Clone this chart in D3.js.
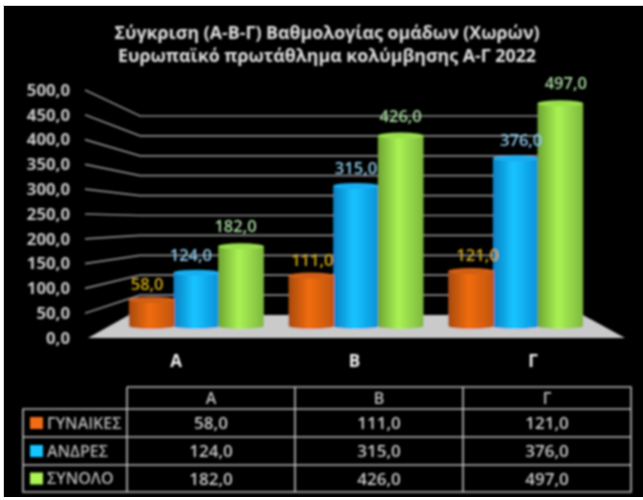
<!DOCTYPE html>
<html>
<head>
<meta charset="utf-8">
<script src="https://cdn.jsdelivr.net/npm/d3@7"></script>
<style>
  html, body { margin: 0; padding: 0; background: #fff; }
  svg { display: block; }
  text { font-family: "Open Sans", "Noto Sans", sans-serif; }
</style>
</head>
<body>
<div id="chart"></div>
<script>
// data
var categories = ["Α", "Β", "Γ"];
var seriesNames = ["ΓΥΝΑΙΚΕΣ", "ΑΝΔΡΕΣ", "ΣΥΝΟΛΟ"];
var women = [58, 111, 121];
var men = [124, 315, 376];
var total = [182, 426, 497];
var yTicks = [0, 50, 100, 150, 200, 250, 300, 350, 400, 450, 500];
var titleLines = ["Σύγκριση (Α-Β-Γ)  Βαθμολογίας ομάδων (Χωρών)", "Ευρωπαϊκό πρωτάθλημα κολύμβησης Α-Γ 2022"];

var seriesValues = [women, men, total];
var sideColors = [["#a84a08", "#f06c12", "#c05408"], ["#0c80c4", "#14c4ff", "#0e90d8"], ["#6ea432", "#aaf254", "#7eb83e"]];
var topColors = ["#d05e12", "#18aef0", "#98e04c"];
var labelColors = ["#d0a818", "#8cc8e8", "#a8dca0"];
var labelNudge = [1, 0, 0];
var labelRise = [16, 18, 20];
var seriesLift = [3, 0, 0];

var width = 643, height = 500;
var svg = d3.select("#chart").append("svg").attr("width", width).attr("height", height);
var defs = svg.append("defs");

defs.append("filter").attr("id", "soft")
	.attr("filterUnits", "userSpaceOnUse")
	.attr("x", 0).attr("y", 0)
	.attr("width", width).attr("height", height)
	.append("feGaussianBlur").attr("stdDeviation", 0.8);

sideColors.forEach(function(c, i) {
	var g = defs.append("linearGradient").attr("id", "side" + i);
	g.append("stop").attr("offset", "0%").attr("stop-color", c[0]);
	g.append("stop").attr("offset", "45%").attr("stop-color", c[1]);
	g.append("stop").attr("offset", "100%").attr("stop-color", c[2]);
});

svg.append("rect").attr("x", 3).attr("y", 5).attr("width", width).attr("height", 492).attr("fill", "#d0d0d0");
svg.append("rect").attr("x", 4).attr("y", 6).attr("width", width).attr("height", 491).attr("fill", "#000");
var root = svg.append("g").attr("filter", "url(#soft)");

// title
root.selectAll(".title").data(titleLines).enter().append("text")
	.attr("class", "title")
	.attr("x", 327)
	.attr("y", function(d, i) { return 39 + i * 23; })
	.attr("text-anchor", "middle")
	.attr("font-size", 17.8)
	.attr("font-weight", 700)
	.attr("fill", "#e0e0e0")
	.text(function(d) { return d; });

// scales
var frontY = d3.scaleLinear().domain([0, 500]).range([338, 90]);
var backY = d3.scaleLinear().domain([0, 500]).range([315, 116]);
var barY = d3.scaleLinear().domain([0, 500]).range([329, 102]);
var groupX = d3.scaleBand().domain(categories).range([116, 595]).paddingInner(0).paddingOuter(0);
var barX = d3.scaleBand().domain(d3.range(seriesNames.length)).range([0, 134]);
var groupLabelX = d3.scalePoint().domain(categories).range([176, 533]);
var fmt = function(v) { return d3.format(".1f")(v).replace(".", ","); };

// floor
root.append("path")
	.attr("d", d3.line()([[88, 338], [129, 315], [583, 315], [625, 338]]) + "Z")
	.attr("fill", "#cacaca");

// wall lines
var gridline = d3.line().x(function(d) { return d[0]; }).y(function(d) { return d[1]; });
root.selectAll(".grid").data(yTicks.slice(1)).enter().append("path")
	.attr("class", "grid")
	.attr("fill", "none")
	.attr("stroke", "#8a8a8a")
	.attr("stroke-width", 1.7)
	.attr("d", function(v) {
		return gridline([[85, frontY(v)], [140, backY(v)], [582, backY(v)]]);
	});

// y axis
var axis = root.append("g").attr("transform", "translate(70,0)")
	.call(d3.axisLeft(frontY).tickValues(yTicks).tickSize(0).tickPadding(0).tickFormat(fmt));
axis.select(".domain").remove();
axis.selectAll("text")
	.attr("fill", "#c8c8c8")
	.attr("font-size", 16.8)
	.attr("font-weight", 700)
	.attr("font-family", "\"Open Sans\", sans-serif");

// cylinders (blue and green first, orange sits in front of them)
var baseY = 326, ry = 3;
[1, 2, 0].forEach(function(s) {
	categories.forEach(function(cat, c) {
		var v = seriesValues[s][c];
		var w = barX.bandwidth() + 1;
		var x0 = groupX(cat) + (groupX.bandwidth() - 134) / 2 + barX(s);
		var x1 = x0 + w;
		var top = barY(v) - seriesLift[s];
		var g = root.append("g");
		g.append("path")
			.attr("d", "M" + x0 + "," + top + "L" + x0 + "," + baseY +
				"A" + (w / 2) + "," + ry + " 0 0 0 " + x1 + "," + baseY +
				"L" + x1 + "," + top + "Z")
			.attr("fill", "url(#side" + s + ")");
		g.append("ellipse")
			.attr("cx", (x0 + x1) / 2).attr("cy", top)
			.attr("rx", w / 2).attr("ry", ry)
			.attr("fill", topColors[s]);
	});
});

// value labels, they lean outwards from the chart middle like the 3d original
var lean = d3.scaleLinear().domain([196, 516]).range([-5, 6]);
seriesNames.forEach(function(name, s) {
	categories.forEach(function(cat, c) {
		var cx = groupX(cat) + (groupX.bandwidth() - 134) / 2 + barX(s) + barX.bandwidth() / 2;
		root.append("text")
			.attr("x", cx + lean(groupX(cat) + groupX.bandwidth() / 2) + labelNudge[s])
			.attr("y", barY(seriesValues[s][c]) - labelRise[s] - seriesLift[s] + 6)
			.attr("text-anchor", "middle")
			.attr("font-size", 16.5)
			.attr("font-weight", 600)
			.attr("fill", labelColors[s])
			.text(fmt(seriesValues[s][c]));
	});
});

// category labels
root.selectAll(".cat").data(categories).enter().append("text")
	.attr("class", "cat")
	.attr("x", function(d) { return groupLabelX(d); })
	.attr("y", 367)
	.attr("text-anchor", "middle")
	.attr("font-size", 17)
	.attr("font-weight", 700)
	.attr("fill", "#f0f0f0")
	.text(function(d) { return d; });

// data table
var colEdges = d3.scalePoint().domain(d3.range(4)).range([127, 631]);
var rowY = d3.scaleOrdinal().domain(["head", 0, 1, 2, "end"]).range([387, 409, 437, 465, 492]);
var colX = d3.scaleBand().domain(categories).range([127, 631]);
var table = root.append("g").attr("stroke", "#bcbcbc").attr("stroke-width", 1.6);
table.append("path").attr("fill", "none").attr("d",
	"M" + colEdges(0) + "," + rowY("head") + "H" + colEdges(3) + "V" + rowY("end") + "H23V" + rowY(0) + "H" + colEdges(3) +
	"M23," + rowY(1) + "H" + colEdges(3) + "M23," + rowY(2) + "H" + colEdges(3) +
	"M" + colEdges(0) + "," + rowY("head") + "V" + rowY("end") +
	"M" + colEdges(1) + "," + rowY("head") + "V" + rowY("end") +
	"M" + colEdges(2) + "," + rowY("head") + "V" + rowY("end"));

root.selectAll(".colhead").data(categories).enter().append("text")
	.attr("class", "colhead")
	.attr("x", function(d) { return colX(d) + colX.bandwidth() / 2; })
	.attr("y", 404)
	.attr("text-anchor", "middle")
	.attr("font-size", 16)
	.attr("font-weight", 600)
	.attr("fill", "#c0c0c0")
	.text(function(d) { return d; });

seriesNames.forEach(function(name, s) {
	var mid = (rowY(s) + rowY(s === 2 ? "end" : s + 1)) / 2;
	root.append("rect").attr("x", 30).attr("y", mid - 6).attr("width", 13).attr("height", 12)
		.attr("fill", sideColors[s][1]);
	root.append("text").attr("x", 47).attr("y", mid + 5.5)
		.attr("font-size", 16).attr("font-weight", 600).attr("fill", "#b8b8b8")
		.text(name);
	categories.forEach(function(cat, c) {
		root.append("text")
			.attr("x", colX(cat) + colX.bandwidth() / 2)
			.attr("y", mid + 6)
			.attr("text-anchor", "middle")
			.attr("font-size", 17)
			.attr("font-weight", 600)
			.attr("fill", "#cccccc")
			.text(fmt(seriesValues[s][c]));
	});
});
</script>
</body>
</html>
